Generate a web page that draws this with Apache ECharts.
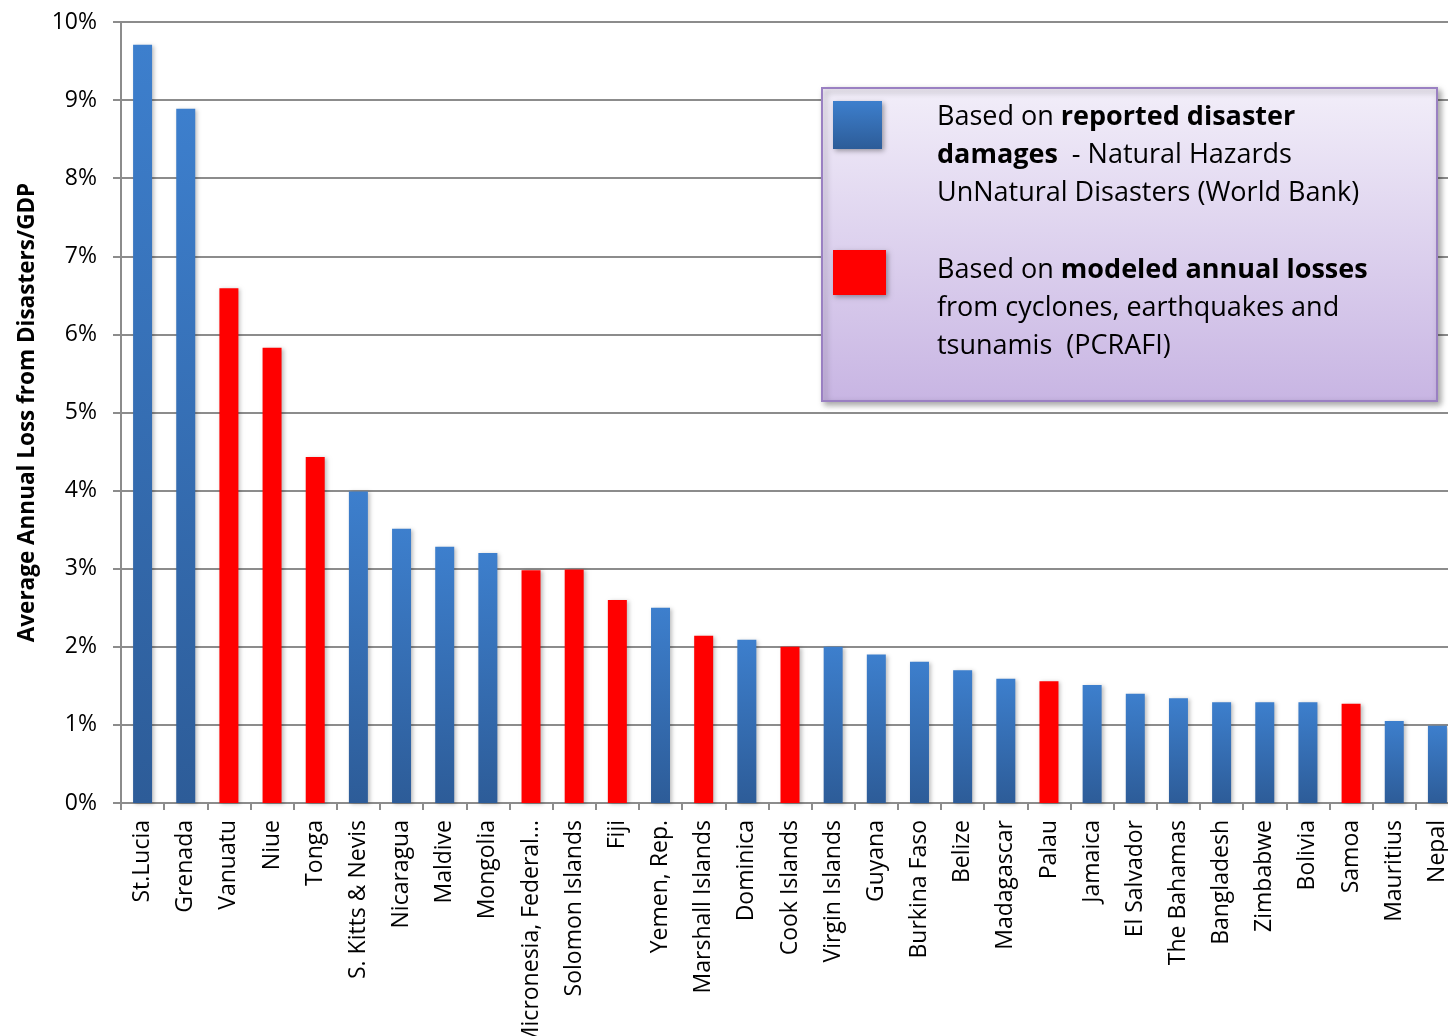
<!DOCTYPE html>
<html lang="en">
<head>
    <meta charset="UTF-8">
    <title>Average Annual Loss from Disasters/GDP</title>
    <script src="https://cdn.jsdelivr.net/npm/echarts@6.0.0/dist/echarts.min.js"></script>
    <style>
        * { margin: 0; padding: 0 }
        html, body { width: 100%; height: 100%; background: #fff; }
        #main { width: 1448px; height: 1036px; }
    </style>
</head>
<body>
<div id="main"></div>
<script type="text/javascript">
    // countries, left to right
    var countries = ['St.Lucia', 'Grenada', 'Vanuatu', 'Niue', 'Tonga', 'S. Kitts & Nevis', 'Nicaragua',
        'Maldive', 'Mongolia', 'Micronesia, Federal...', 'Solomon Islands', 'Fiji', 'Yemen, Rep.',
        'Marshall Islands', 'Dominica', 'Cook Islands', 'Virgin Islands', 'Guyana', 'Burkina Faso',
        'Belize', 'Madagascar', 'Palau', 'Jamaica', 'El Salvador', 'The Bahamas', 'Bangladesh',
        'Zimbabwe', 'Bolivia', 'Samoa', 'Mauritius', 'Nepal'];
    // average annual loss, % of GDP
    var lossPct = [9.71, 8.89, 6.59, 5.83, 4.43, 3.99, 3.51, 3.28, 3.2, 2.98, 2.99, 2.6, 2.5,
        2.14, 2.09, 2.0, 2.0, 1.9, 1.81, 1.7, 1.59, 1.56, 1.51, 1.4, 1.34, 1.29, 1.29, 1.29,
        1.27, 1.05, 0.99];
    // R = reported damages (World Bank), M = modeled losses (PCRAFI)
    var source = ['R', 'R', 'M', 'M', 'M', 'R', 'R', 'R', 'R', 'M', 'M', 'M', 'R', 'M', 'R', 'M',
        'R', 'R', 'R', 'R', 'R', 'M', 'R', 'R', 'R', 'R', 'R', 'R', 'M', 'R', 'R'];
    var yTicks = [0, 1, 2, 3, 4, 5, 6, 7, 8, 9, 10];

    var reported = lossPct.map(function (v, i) { return source[i] === 'R' ? v : '-'; });
    var modeled = lossPct.map(function (v, i) { return source[i] === 'M' ? v : '-'; });

    var blueFill = new echarts.graphic.LinearGradient(0, 0, 0, 1, [
        { offset: 0, color: '#3d7fcd' },
        { offset: 1, color: '#2d5c98' }
    ]);
    var gridGray = '#8c8c8c';
    var font = 'Open Sans';

    var myChart = echarts.init(document.getElementById('main'));
    var option = {
        animation: false,
        // the plot runs a little past the right edge of the picture
        grid: { left: 121, width: 1338, top: 22, bottom: 233, outerBoundsMode: 'none' },
        xAxis: {
            type: 'category',
            data: countries,
            axisLine: { lineStyle: { color: gridGray, width: 2 } },
            axisTick: { show: true, length: 7, lineStyle: { color: gridGray, width: 2 } },
            axisLabel: {
                interval: 0, rotate: 90, margin: 17,
                color: '#000', fontSize: 23, fontFamily: font
            }
        },
        yAxis: {
            type: 'value',
            min: yTicks[0], max: yTicks[yTicks.length - 1], interval: 1,
            name: 'Average Annual Loss from Disasters/GDP',
            nameLocation: 'middle',
            nameGap: 82,
            nameTextStyle: { color: '#000', fontSize: 22.5, fontWeight: 'bold', fontFamily: font },
            axisLine: { show: true, lineStyle: { color: gridGray, width: 2 } },
            axisTick: { show: true, length: 8, lineStyle: { color: gridGray, width: 2 } },
            splitLine: { lineStyle: { color: gridGray, width: 2 } },
            axisLabel: {
                formatter: '{value}%', margin: 24,
                color: '#000', fontSize: 23, fontFamily: font
            }
        },
        series: [
            {
                name: 'reported', type: 'bar', data: reported,
                barWidth: 19, barGap: '-100%',
                itemStyle: {
                    color: blueFill, shadowBlur: 4, shadowColor: 'rgba(0,0,0,0.25)',
                    shadowOffsetX: 2, shadowOffsetY: 1
                }
            },
            {
                name: 'modeled', type: 'bar', data: modeled,
                barWidth: 19, barGap: '-100%',
                itemStyle: {
                    color: '#ff0000', shadowBlur: 4, shadowColor: 'rgba(0,0,0,0.25)',
                    shadowOffsetX: 2, shadowOffsetY: 1
                }
            }
        ],
        graphic: [
            {
                type: 'rect', left: 821, top: 87, z: 10,
                shape: { width: 615, height: 313 },
                style: {
                    fill: new echarts.graphic.LinearGradient(0, 0, 0, 1, [
                        { offset: 0, color: '#f2eef9' },
                        { offset: 1, color: '#c8b5e3' }
                    ]),
                    stroke: '#9a80c2', lineWidth: 2,
                    shadowBlur: 6, shadowColor: 'rgba(0,0,0,0.35)', shadowOffsetX: 3, shadowOffsetY: 3
                }
            },
            {
                type: 'rect', left: 833, top: 101, z: 11,
                shape: { width: 49, height: 48 },
                style: {
                    fill: new echarts.graphic.LinearGradient(0, 0, 0, 1, [
                        { offset: 0, color: '#3d7fcd' },
                        { offset: 1, color: '#2d5c98' }
                    ]),
                    shadowBlur: 5, shadowColor: 'rgba(0,0,0,0.35)', shadowOffsetX: 2, shadowOffsetY: 2
                }
            },
            {
                type: 'rect', left: 833, top: 250, z: 11,
                shape: { width: 53, height: 45 },
                style: {
                    fill: '#ff0000',
                    shadowBlur: 5, shadowColor: 'rgba(0,0,0,0.35)', shadowOffsetX: 2, shadowOffsetY: 2
                }
            },
            {
                type: 'text', left: 937, top: 98, z: 11,
                style: {
                    text: 'Based on {b|reported disaster}\n{b|damages}  - Natural Hazards\nUnNatural Disasters (World Bank)',
                    fill: '#000', fontSize: 27, fontFamily: font, lineHeight: 38,
                    rich: { b: { fontSize: 27, fontFamily: font, fontWeight: 'bold', lineHeight: 38 } }
                }
            },
            {
                type: 'text', left: 937, top: 251, z: 11,
                style: {
                    text: 'Based on {b|modeled annual losses}\nfrom cyclones, earthquakes and\ntsunamis  (PCRAFI)',
                    fill: '#000', fontSize: 27, fontFamily: font, lineHeight: 38,
                    rich: { b: { fontSize: 27, fontFamily: font, fontWeight: 'bold', lineHeight: 38 } }
                }
            }
        ]
    };
    myChart.setOption(option);
</script>
</body>
</html>
